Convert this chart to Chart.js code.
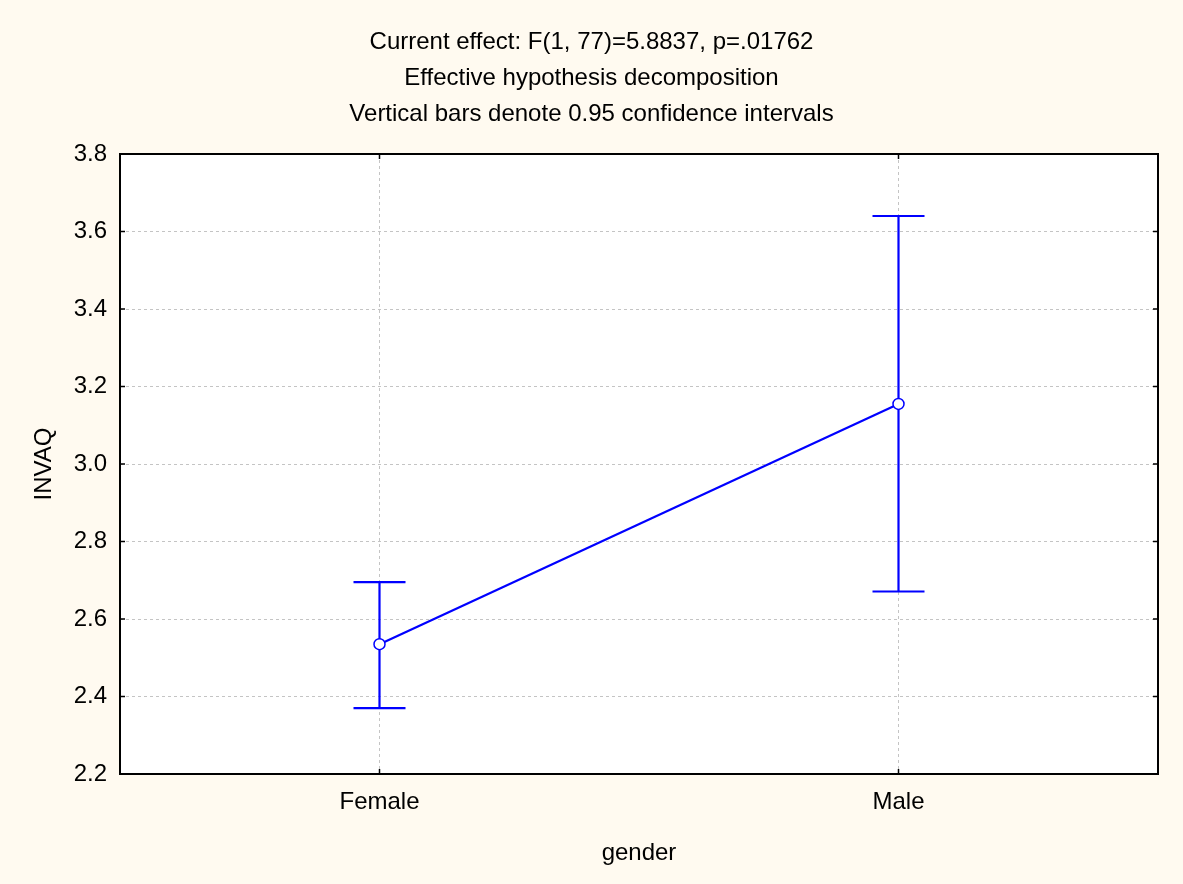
<!DOCTYPE html>
<html>
<head>
<meta charset="utf-8">
<title>INVAQ by gender</title>
<script src="https://cdn.jsdelivr.net/npm/chart.js@4/dist/chart.umd.min.js"></script>
<style>
  html, body { margin: 0; padding: 0; background: #fffaf0; }
  #wrap { width: 1183px; height: 884px; position: relative; }
</style>
</head>
<body>
<div id="wrap"><canvas id="effectChart"></canvas></div>
<script>
// data
const categories = ["Female", "Male"];
const means = [2.535, 3.155];
const ciLower = [2.370, 2.671];
const ciUpper = [2.695, 3.640];
const yTicks = [2.2, 2.4, 2.6, 2.8, 3.0, 3.2, 3.4, 3.6, 3.8];
const titleLines = [
  "Current effect: F(1, 77)=5.8837, p=.01762",
  "Effective hypothesis decomposition",
  "Vertical bars denote 0.95 confidence intervals",
];

const colors = {
  blue: "#0000ff",
  frame: "#000000",
  grid: "#c4c4c4",
  text: "#000000",
};

Chart.defaults.font.family = "'Liberation Sans', Arial, sans-serif";
Chart.defaults.color = colors.text;

// white plot area, black frame, inward tick marks
const framePlugin = {
  id: "frame",
  beforeDraw(chart) {
    const { ctx, chartArea: a } = chart;
    ctx.save();
    ctx.fillStyle = "#ffffff";
    ctx.fillRect(a.left, a.top, a.right - a.left, a.bottom - a.top);
    ctx.restore();
  },
  afterDraw(chart) {
    const { ctx, chartArea: a, scales } = chart;
    ctx.save();
    ctx.strokeStyle = colors.frame;
    ctx.lineWidth = 1.5;
    yTicks.forEach((v) => {
      const y = scales.y.getPixelForValue(v);
      ctx.beginPath();
      ctx.moveTo(a.left, y); ctx.lineTo(a.left + 5, y);
      ctx.moveTo(a.right, y); ctx.lineTo(a.right - 5, y);
      ctx.stroke();
    });
    categories.forEach((c, i) => {
      const x = scales.x.getPixelForValue(i);
      ctx.beginPath();
      ctx.moveTo(x, a.bottom); ctx.lineTo(x, a.bottom - 5);
      ctx.moveTo(x, a.top); ctx.lineTo(x, a.top + 5);
      ctx.stroke();
    });
    ctx.lineWidth = 2;
    ctx.strokeRect(a.left, a.top, a.right - a.left, a.bottom - a.top);
    ctx.restore();
  },
};

// confidence interval whiskers, drawn under the points
const errorBarPlugin = {
  id: "errorBars",
  beforeDatasetsDraw(chart) {
    const { ctx, scales } = chart;
    const capHalf = 26;
    ctx.save();
    ctx.strokeStyle = colors.blue;
    ctx.lineWidth = 2.2;
    categories.forEach((c, i) => {
      const x = scales.x.getPixelForValue(i);
      const yLo = scales.y.getPixelForValue(ciLower[i]);
      const yHi = scales.y.getPixelForValue(ciUpper[i]);
      ctx.beginPath();
      ctx.moveTo(x, yLo); ctx.lineTo(x, yHi);
      ctx.moveTo(x - capHalf, yLo); ctx.lineTo(x + capHalf, yLo);
      ctx.moveTo(x - capHalf, yHi); ctx.lineTo(x + capHalf, yHi);
      ctx.stroke();
    });
    ctx.restore();
  },
};

const ctx = document.getElementById("effectChart").getContext("2d");
new Chart(ctx, {
  type: "line",
  data: {
    labels: categories,
    datasets: [
      {
        label: "INVAQ",
        data: means,
        borderColor: colors.blue,
        borderWidth: 2.2,
        pointRadius: 5.5,
        pointBackgroundColor: "#ffffff",
        pointBorderColor: colors.blue,
        pointBorderWidth: 1.5,
        tension: 0,
      },
    ],
  },
  options: {
    responsive: true,
    maintainAspectRatio: false,
    animation: false,
    events: [],
    layout: { padding: 0 },
    plugins: {
      legend: { display: false },
      tooltip: { enabled: false },
      title: {
        display: true,
        text: titleLines,
        color: colors.text,
        font: { size: 24, weight: "normal", lineHeight: 1.5 },
        padding: { top: 24, bottom: 22 },
      },
    },
    scales: {
      x: {
        type: "category",
        offset: true,
        grid: {
          offset: false,
          color: colors.grid,
          lineWidth: 1,
          drawTicks: false,
        },
        border: { display: false, dash: [3, 3] },
        ticks: { padding: 14, font: { size: 24 }, color: colors.text },
        title: {
          display: true,
          text: "gender",
          font: { size: 24 },
          color: colors.text,
          padding: { top: 0, bottom: 16 },
        },
        afterFit(scale) { scale.height = 110; },
      },
      y: {
        min: 2.2,
        max: 3.8,
        afterBuildTicks(scale) {
          scale.ticks = yTicks.map((v) => ({ value: v }));
        },
        grid: {
          color: colors.grid,
          lineWidth: 1,
          drawTicks: false,
        },
        border: { display: false, dash: [3, 3] },
        ticks: {
          padding: 13,
          font: { size: 24 },
          color: colors.text,
          callback: (v) => Number(v).toFixed(1),
        },
        title: {
          display: true,
          text: "INVAQ",
          font: { size: 24 },
          color: colors.text,
          padding: { top: 30, bottom: 0 },
        },
        afterFit(scale) { scale.width = 120; },
      },
      // empty right-hand margin so the title centres on the whole canvas
      yRight: {
        position: "right",
        min: 2.2,
        max: 3.8,
        grid: { display: false, drawTicks: false },
        border: { display: false },
        ticks: { display: false },
        afterFit(scale) { scale.width = 25; },
      },
    },
  },
  plugins: [framePlugin, errorBarPlugin],
});
</script>
</body>
</html>
